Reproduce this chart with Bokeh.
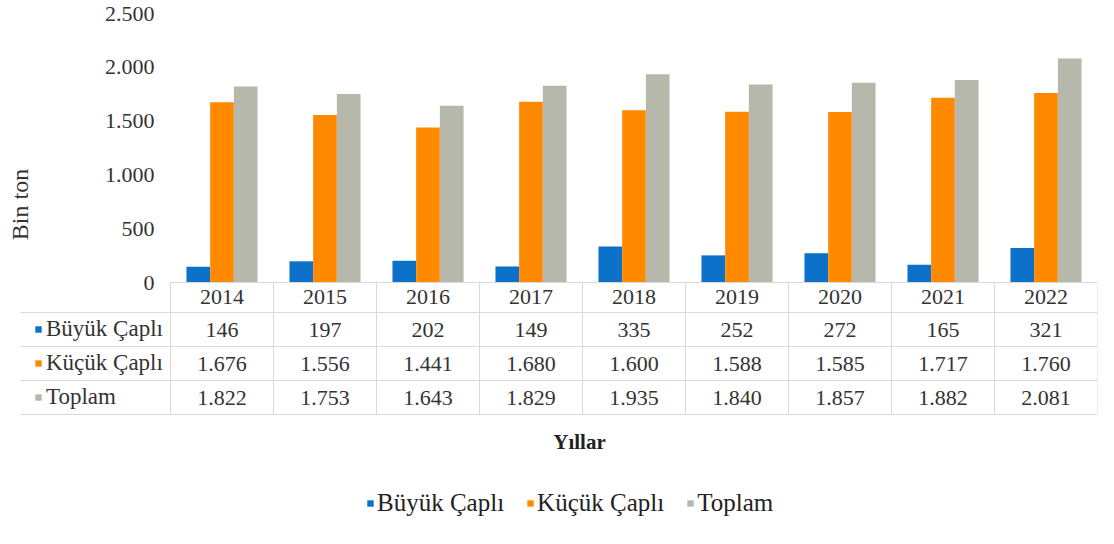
import math
from bokeh.plotting import figure
from bokeh.models import (Range1d, FixedTicker, ColumnDataSource, Legend, LegendItem, Label)
from bokeh.core.properties import value
from bokeh.embed import file_html
from bokeh.resources import INLINE

# ---------------- data ----------------
years = ["2014", "2015", "2016", "2017", "2018", "2019", "2020", "2021", "2022"]
buyuk = [146, 197, 202, 149, 335, 252, 272, 165, 321]
kucuk = [1676, 1556, 1441, 1680, 1600, 1588, 1585, 1717, 1760]
toplam = [1822, 1753, 1643, 1829, 1935, 1840, 1857, 1882, 2081]
series_names = ["Büyük Çaplı", "Küçük Çaplı", "Toplam"]
series_values = [buyuk, kucuk, toplam]
colors = ["#0B71C9", "#FF8A00", "#B6B8AB"]
y_ticks = [0, 500, 1000, 1500, 2000, 2500]
y_title = "Bin ton"
x_title = "Yıllar"

# ---------------- layout (canvas pixels) ----------------
W, H = 1098, 528
FRAME_L, FRAME_R = 170, 1097      # x of category 0 start / last category end
ZERO_PX, TOP_PX = 282, 13         # canvas y of value 0 and of the top tick
K = (ZERO_PX - TOP_PX) / y_ticks[-1]
NCAT = len(years)
CAT_PX = (FRAME_R - FRAME_L) / NCAT


def yv(cy):
    return (ZERO_PX - cy) / K


def xv(cx):
    return (cx - FRAME_L) / CAT_PX


FONT = "Liberation Serif"
TXT = "#333333"
GRID = "#d9d9d9"


def fmt(v):
    return f"{v:,}".replace(",", ".")


p = figure(width=W, height=H, output_backend="svg", toolbar_location=None,
           x_range=Range1d(xv(0), xv(FRAME_R)), y_range=Range1d(yv(H), yv(0)),
           x_axis_location=None, min_border_left=0,
           min_border_right=W - FRAME_R, min_border_top=0, min_border_bottom=0)
p.outline_line_color = None
p.xgrid.visible = False
p.ygrid.visible = False
p.background_fill_color = "white"
p.border_fill_color = "white"

ax = p.yaxis[0]
ax.fixed_location = 0
ax.ticker = FixedTicker(ticks=y_ticks)
ax.major_label_overrides = {t: fmt(t) for t in y_ticks}
ax.axis_line_color = None
ax.major_tick_line_color = None
ax.minor_tick_line_color = None
ax.major_tick_out = 0
ax.major_tick_in = 0
ax.major_label_standoff = 16
ax.major_label_text_font = FONT
ax.major_label_text_font_size = "22px"
ax.major_label_text_color = TXT

# ---------------- bars ----------------
bar_w = 0.23
offsets = [-bar_w, 0.0, bar_w]
renderers = []
for name, vals, col, off in zip(series_names, series_values, colors, offsets):
    src = ColumnDataSource(dict(x=[i + 0.5 + off for i in range(NCAT)], top=vals))
    r = p.vbar(x="x", top="top", bottom=0, width=bar_w, source=src,
               fill_color=col, line_color=None)
    renderers.append(r)

# ---------------- data table ----------------
row_centers = [296, 329, 363, 397]   # canvas y of the rows (years, 3 series)
row_lines = [312, 346, 380, 414]     # canvas y of separators
top_line = ZERO_PX
left_col_px = 20

hx0 = [0] + [xv(left_col_px)] * len(row_lines)
hx1 = [NCAT] * (len(row_lines) + 1)
hy = [yv(top_line)] + [yv(c) for c in row_lines]
p.segment(x0=hx0, y0=hy, x1=hx1, y1=hy, line_color=GRID, line_width=1)
vx = list(range(NCAT + 1))
p.segment(x0=vx, y0=[yv(top_line)] * len(vx), x1=vx, y1=[yv(row_lines[-1])] * len(vx),
          line_color=GRID, line_width=1)

tx, ty, tt = [], [], []
for i, yr in enumerate(years):
    tx.append(i + 0.5); ty.append(yv(row_centers[0])); tt.append(yr)
for r_i, vals in enumerate(series_values):
    for i, v in enumerate(vals):
        tx.append(i + 0.5); ty.append(yv(row_centers[r_i + 1])); tt.append(fmt(v))
p.text(x="x", y="y", text="t", source=ColumnDataSource(dict(x=tx, y=ty, t=tt)),
       text_font=value(FONT), text_font_size="22px", text_align="center",
       text_baseline="middle", text_color=TXT)

# header column as a legend
hdr = Legend(items=[LegendItem(label=n, renderers=[r]) for n, r in zip(series_names, renderers)],
             orientation="vertical", location=(34, H - row_lines[-1]),
             label_height=34, glyph_height=8, glyph_width=8, label_standoff=4,
             spacing=0, padding=0, margin=0, border_line_color=None,
             background_fill_alpha=0, label_text_font=FONT,
             label_text_font_size="23px", label_text_color=TXT)
p.add_layout(hdr, "center")

# ---------------- titles ----------------
p.add_layout(Label(x=xv(19), y=yv(204), text=y_title, angle=math.pi / 2,
                   text_align="center", text_baseline="middle", text_font=FONT,
                   text_font_size="24px", text_color=TXT))
p.add_layout(Label(x=xv(579), y=yv(441), text=x_title, text_align="center",
                   text_baseline="middle", text_font=FONT, text_font_style="bold",
                   text_font_size="21px", text_color="#222222"))

# ---------------- bottom legend ----------------
leg = Legend(items=[LegendItem(label=n, renderers=[r]) for n, r in zip(series_names, renderers)],
             orientation="horizontal", location=(366, 11),
             label_height=24, glyph_height=8, glyph_width=8, label_standoff=3,
             spacing=22, padding=0, margin=0, border_line_color=None,
             background_fill_alpha=0, label_text_font=FONT,
             label_text_font_size="25px", label_text_color="#222222")
p.add_layout(leg, "center")

open("out.html", "w").write(file_html(p, INLINE))
